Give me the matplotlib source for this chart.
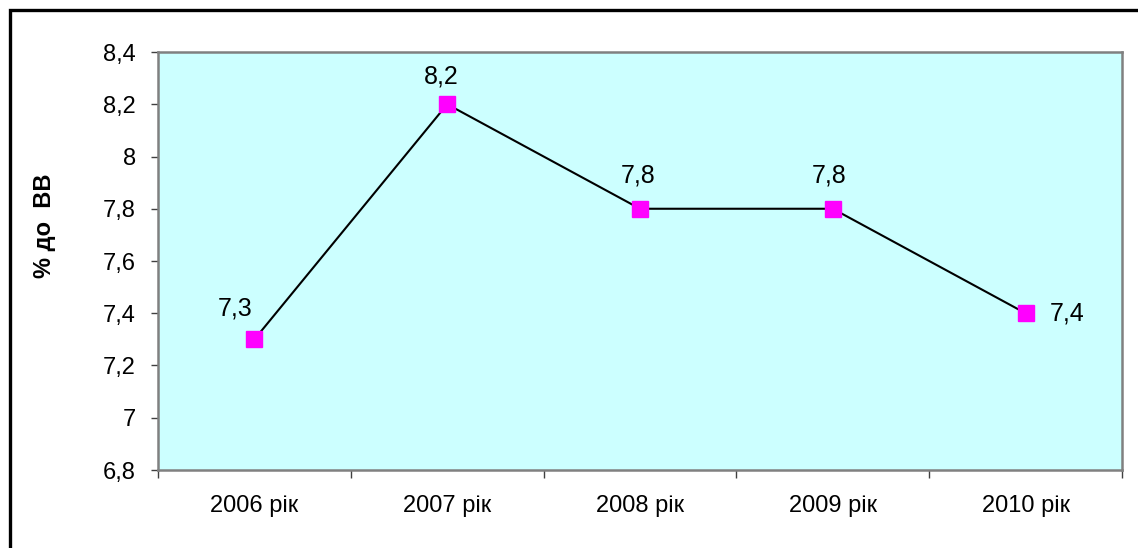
import matplotlib.pyplot as plt
from matplotlib.patches import Rectangle
import numpy as np

plt.rcParams['font.family'] = ['Liberation Sans', 'DejaVu Sans']

years = ["2006 рік", "2007 рік", "2008 рік", "2009 рік", "2010 рік"]
values = [7.3, 8.2, 7.8, 7.8, 7.4]
value_labels = ["7,3", "8,2", "7,8", "7,8", "7,4"]
yticks = [6.8, 7.0, 7.2, 7.4, 7.6, 7.8, 8.0, 8.2, 8.4]
ytick_labels = ["6,8", "7", "7,2", "7,4", "7,6", "7,8", "8", "8,2", "8,4"]
# label offsets in points (dx, dy)
label_offsets = [(-14, 22), (-4, 20), (-1, 24), (-3, 24), (30, 0)]

fig = plt.figure(figsize=(11.38, 5.48), dpi=100)
fig.patch.set_facecolor('white')

# outer frame
fig.patches.append(Rectangle((10 / 1138, -0.2), 1.2, 1 - 10 / 548 + 0.2,
                             transform=fig.transFigure, fill=False,
                             edgecolor='black', linewidth=2.4, zorder=0))

ax = fig.add_axes([158 / 1138, 78 / 548, 964 / 1138, 418 / 548])
ax.set_facecolor('#ccffff')

x = np.arange(len(years))
ax.plot(x, values, color='black', linewidth=1.5, marker='s',
        markersize=11, markerfacecolor='#ff00ff', markeredgecolor='#ff00ff',
        zorder=3)

for xi, v, lab, off in zip(x, values, value_labels, label_offsets):
    ax.annotate(lab, (xi, v), xytext=off, textcoords='offset points',
                ha='center', va='center', fontsize=18)

ax.set_xlim(-0.5, len(years) - 0.5)
ax.set_ylim(6.8, 8.4)

ax.set_yticks(yticks)
ax.set_yticklabels(ytick_labels, fontsize=17)
ax.tick_params(axis='y', length=5, width=1, color='#404040', pad=11)

ax.set_xticks(np.arange(-0.5, len(years)), minor=False)
ax.set_xticklabels([])
ax.set_xticks(x, minor=True)
ax.set_xticklabels(years, minor=True, fontsize=17)
ax.tick_params(axis='x', which='major', length=6, width=1, color='#404040')
ax.tick_params(axis='x', which='minor', length=0, pad=18)

for side in ['left', 'right', 'top', 'bottom']:
    ax.spines[side].set_color('#808080')
    ax.spines[side].set_linewidth(1.8)

fig.text(45 / 1138, 1 - 226 / 548, "% до  ВВ", rotation=90, ha='center',
         va='center', fontsize=17, fontweight='bold')

fig.savefig('out.png', dpi=100)
